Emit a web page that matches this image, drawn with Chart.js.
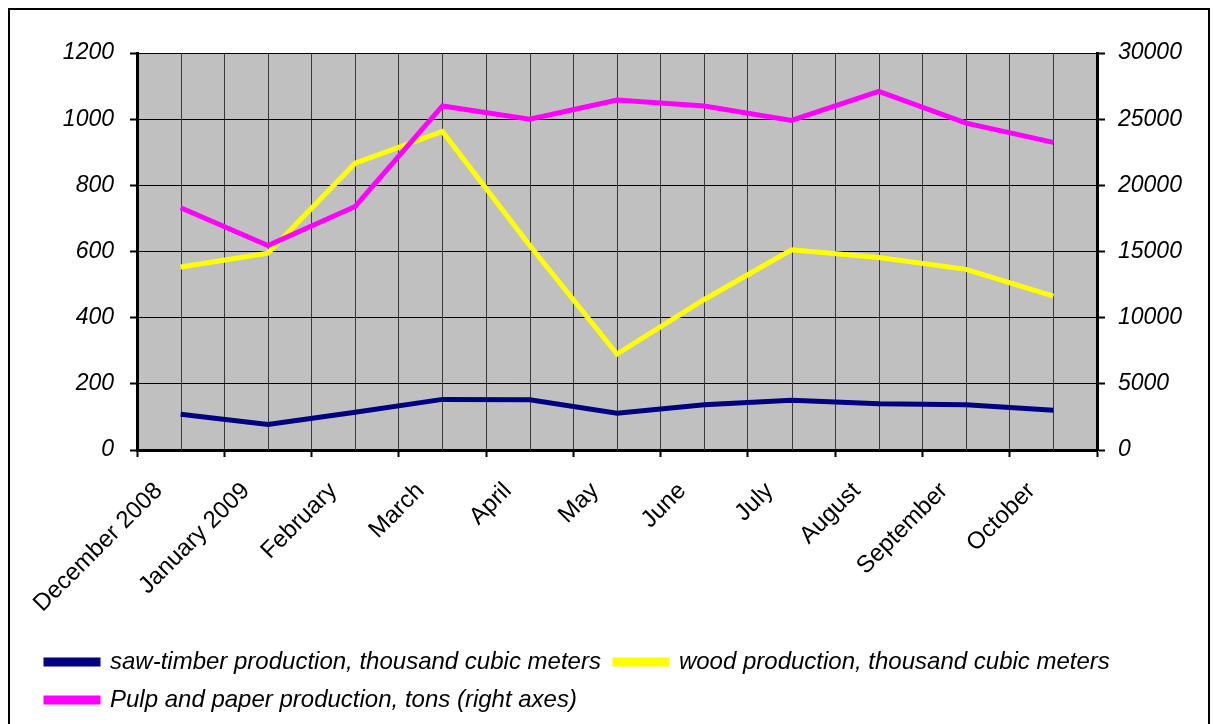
<!DOCTYPE html>
<html>
<head>
<meta charset="utf-8">
<script src="https://cdn.jsdelivr.net/npm/chart.js@4/dist/chart.umd.min.js"></script>
<style>
  html, body { margin:0; padding:0; background:#fff; overflow:hidden; }
  #wrap { position:absolute; left:8px; top:8px; width:1198px; height:716px; border:2px solid #000; }
  canvas { display:block; }
</style>
</head>
<body>
<div id="wrap"><canvas id="prodChart" width="1198" height="714"></canvas></div>
<script>
// Forestry production, Dec 2008 - Oct 2009
var months = ['December 2008','January 2009','February','March','April','May','June','July','August','September','October'];
var sawTimber = [108, 77, 114, 153, 152, 111, 137, 150, 140, 137, 120];
var wood = [553, 595, 867, 963, 618, 290, 455, 605, 582, 546, 465];
var pulpPaper = [18300, 15450, 18400, 26000, 25000, 26450, 26000, 24900, 27100, 24700, 23250];

var leftTicks = { min:0, max:1200, step:200 };
var rightTicks = { min:0, max:30000, step:5000 };

(function(){
  var FONT = 'Liberation Sans, Arial, sans-serif';

  // gray plot background + extra gridlines at category centres
  var plotBg = {
    id:'plotBg',
    beforeDraw: function(chart){
      var a = chart.chartArea, ctx = chart.ctx;
      ctx.save(); ctx.fillStyle = '#c0c0c0';
      ctx.fillRect(a.left, a.top, a.right - a.left, a.bottom - a.top);
      ctx.restore();
    },
    beforeDatasetsDraw: function(chart){
      var a = chart.chartArea, ctx = chart.ctx, x = chart.scales.x;
      ctx.save(); ctx.strokeStyle = '#3a3a3a'; ctx.lineWidth = 1;
      for (var i = 0; i < months.length; i++){
        var px = Math.round(x.getPixelForValue(i)) + 0.5;
        ctx.beginPath(); ctx.moveTo(px, a.top); ctx.lineTo(px, a.bottom); ctx.stroke();
      }
      ctx.restore();
    }
  };

  new Chart(document.getElementById('prodChart'), {
    type:'line',
    data:{
      labels: months,
      datasets:[
        { label:'saw-timber production, thousand cubic meters', data:sawTimber, borderColor:'#000080', backgroundColor:'#000080', yAxisID:'y', order:2 },
        { label:'wood production, thousand cubic meters', data:wood, borderColor:'#ffff00', backgroundColor:'#ffff00', yAxisID:'y', order:1 },
        { label:'Pulp and paper production, tons (right axes)', data:pulpPaper, borderColor:'#ff00ff', backgroundColor:'#ff00ff', yAxisID:'y2', order:0 }
      ]
    },
    options:{
      responsive:false,
      animation:false,
      layout:{ padding:{ left:22, right:16, top:43, bottom:2 } },
      elements:{ line:{ borderWidth:5, tension:0 }, point:{ radius:0, hoverRadius:0 } },
      plugins:{
        legend:{
          position:'bottom', align:'start',
          labels:{
            boxWidth:52, boxHeight:4, padding:14, color:'#000',
            font:{ family:FONT, size:24, style:'italic' },
            sort:function(a,b){ return a.datasetIndex - b.datasetIndex; }
          }
        },
        title:{ display:false },
        tooltip:{ enabled:false }
      },
      scales:{
        x:{
          offset:true,
          grid:{ offset:true, color:'#3a3a3a', lineWidth:1, tickColor:'#000', tickWidth:2, tickLength:7 },
          border:{ color:'#000', width:3 },
          ticks:{ color:'#000', minRotation:45, maxRotation:45, autoSkip:false, padding:20, labelOffset:-22,
                  font:{ family:FONT, size:24 } },
          afterFit:function(s){ s.height = 186; }
        },
        y:{
          position:'left', min:leftTicks.min, max:leftTicks.max,
          grid:{ color:'#000', lineWidth:1, tickColor:'#000', tickWidth:2, tickLength:7 },
          border:{ color:'#000', width:3 },
          ticks:{ stepSize:leftTicks.step, color:'#000', padding:16, font:{ family:FONT, size:23, style:'italic' },
                  callback:function(v){ return String(v); } },
          afterFit:function(s){ s.width = 105; }
        },
        y2:{
          position:'right', min:rightTicks.min, max:rightTicks.max,
          grid:{ drawOnChartArea:false, tickColor:'#000', tickWidth:2, tickLength:8 },
          border:{ color:'#000', width:3 },
          ticks:{ stepSize:rightTicks.step, color:'#000', padding:13, font:{ family:FONT, size:23, style:'italic' },
                  callback:function(v){ return String(v); } },
          afterFit:function(s){ s.width = 95; }
        }
      }
    },
    plugins:[plotBg]
  });
})();
</script>
</body>
</html>
